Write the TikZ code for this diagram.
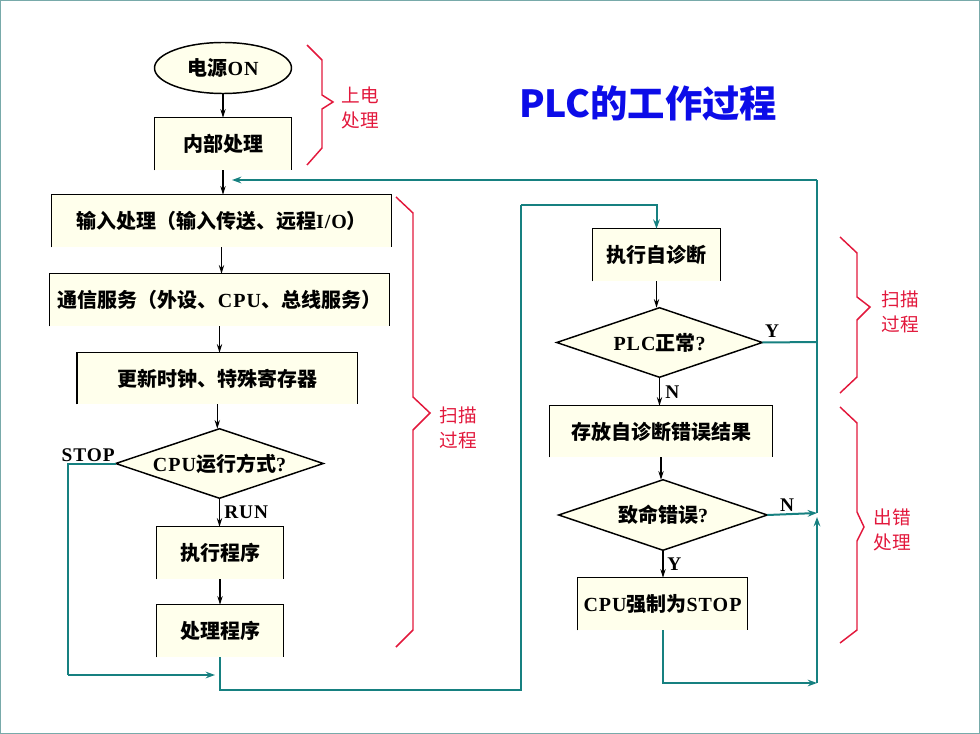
\documentclass[tikz,border=0pt]{standalone}
\usepackage{fontspec}
\newfontfamily\cjk{Noto Sans CJK SC}
\newfontfamily\lat{Liberation Serif}[LetterSpace=5]
\usetikzlibrary{arrows.meta,shapes.geometric,backgrounds}
\definecolor{cream}{RGB}{255,255,236}
\definecolor{tealc}{RGB}{22,128,128}
\definecolor{redc}{RGB}{226,24,60}
\definecolor{titleblue}{RGB}{12,12,232}
\definecolor{framec}{RGB}{120,170,170}
\newcommand\obox[1]{\draw[boxline] (#1.south west) -- (#1.north west) -- (#1.north east) -- (#1.south east);}
\newcommand\dshape[1]{\begin{scope}[on background layer]\draw[boxline,fill=cream] (#1.west) -- (#1.north) -- (#1.east) -- (#1.south) -- cycle;\end{scope}}
\begin{document}
\begin{tikzpicture}[x=0.75pt,y=-0.75pt,
  blk/.style 2 args={minimum width=#1*0.75pt, minimum height=#2*0.75pt, inner sep=0pt, font=\cjk\bfseries\fontsize{15}{17}\selectfont},
  boxfill/.style={fill=cream},
  boxline/.style={draw=black, line width=1.1pt},
  arr/.style={-{Stealth[length=6.5pt,width=4pt]}, line width=0.9pt, black},
  tl/.style={line width=1.5pt, tealc},
  tarr/.style={tl, -{Stealth[length=7pt,width=5pt]}},
  brace/.style={line width=1.1pt, redc, line join=miter},
  rlab/.style={font=\cjk\fontsize{14}{17}\selectfont, text=redc, align=center, inner sep=0pt},
  ylab/.style={font=\lat\bfseries\fontsize{14.5}{17}\selectfont, inner sep=0pt}
]
\useasboundingbox (0,0) rectangle (980,734);
\draw[framec, line width=0.8pt] (0.6,0.6) rectangle (979.4,733.4);

% title
\node[font=\cjk\bfseries\fontsize{28}{32}\selectfont, text=titleblue] (title) at (648,103) {PLC的工作过程};

% left column
\node[ellipse, draw=black, line width=1.1pt, fill=cream, minimum width=137*0.75pt, minimum height=51*0.75pt, inner sep=0pt,
  font=\cjk\bfseries\fontsize{15}{17}\selectfont] (on) at (223,68) {电源{\lat\bfseries ON}};
\node[blk={136}{52}, boxfill] (int) at (223,144) {内部处理};
\obox{int}
\node[blk={339}{52}, boxfill] (inp) at (221.5,221) {输入处理（输入传送、远程{\lat\bfseries I/O}）};
\obox{inp}
\node[blk={339}{52}, boxfill] (com) at (219.5,300) {通信服务（外设、{\lat\bfseries CPU}、总线服务）};
\obox{com}
\node[blk={280}{51}, boxfill] (upd) at (217.3,378.5) {更新时钟、特殊寄存器};
\obox{upd}
\node[blk={207}{69}] (cpu) at (219.5,463.5) {{\lat\bfseries CPU}运行方式{\lat\bfseries ?}};
\dshape{cpu}
\node[blk={126}{52}, boxfill] (exe) at (220,553) {执行程序};
\obox{exe}
\node[blk={126}{52}, boxfill] (prc) at (220,631) {处理程序};
\obox{prc}

% right column
\node[blk={127}{52}, boxfill] (diag) at (656.5,255) {执行自诊断};
\obox{diag}
\node[blk={205}{69}] (plc) at (659.5,342.5) {{\lat\bfseries PLC}正常{\lat\bfseries ?}};
\dshape{plc}
\node[blk={222}{51}, boxfill] (sto) at (661,431.5) {存放自诊断错误结果};
\obox{sto}
\node[blk={208}{70}] (fat) at (663,515) {致命错误{\lat\bfseries ?}};
\dshape{fat}
\node[blk={169}{52}, boxfill] (stp) at (662.5,604) {{\lat\bfseries CPU}强制为{\lat\bfseries STOP}};
\obox{stp}

% black arrows
\draw[arr] (on.south) -- (on.south |- int.north);
\draw[arr] (int.south) -- (int.south |- inp.north);
\draw[arr] (inp.south) -- (inp.south |- com.north);
\draw[arr] (com.south) -- (com.south |- upd.north);
\draw[arr] (upd.south) -- (upd.south |- cpu.north);
\draw[arr] (cpu.south) -- (cpu.south |- exe.north);
\draw[arr] (exe.south) -- (exe.south |- prc.north);
\draw[arr] (diag.south) -- (diag.south |- plc.north);
\draw[arr] (plc.south) -- (plc.south |- sto.north);
\draw[arr] (sto.south) -- (sto.south |- fat.north);
\draw[arr] (fat.south) -- (fat.south |- stp.north);

% labels
\node[ylab, anchor=east] (lstop) at (115,455) {STOP};
\node[ylab, anchor=west] (lrun) at (224,512) {RUN};
\node[ylab] (ly1) at (772,331) {Y};
\node[ylab, anchor=west] (ln1) at (665,392) {N};
\node[ylab] (ln2) at (787,505) {N};
\node[ylab, anchor=west] (ly2) at (667,564) {Y};

% teal connectors
\coordinate (sl) at (68,675);
\coordinate (se) at (215,675);
\draw[tl] (cpu.west) -| (sl);
\draw[tarr] (sl) -- (se);

\coordinate (lb) at (521,690);
\coordinate (lt) at (521,205);
\draw[tl] (prc.south) |- (lb) -- (lt);
\draw[tarr] (lt) -| (diag.north);

\coordinate (rb) at (817,683);
\coordinate (rm) at (817,513);
\coordinate (rmu) at (817,517);
\coordinate (ry) at (817,342);
\coordinate (rt) at (817,180);
\coordinate (entry) at (232,180);
\draw[tl] (plc.east) -- (ry);
\draw[tarr] (fat.east) -- (rm);
\draw[tarr] (stp.south) |- (rb);
\draw[tarr] (rb) -- (rmu);
\draw[tl] (rm) -- (rt);
\draw[tarr] (rt) -- (entry);

% red braces
\draw[brace] (307,45) -- (322,60) -- (322,95) -- (333,102) -- (322,109) -- (322,148) -- (307,165);
\node[rlab] (t1) at (360,108) {上电\\[2pt]处理};
\draw[brace] (396,197) -- (413,213) -- (413,397) -- (430,413) -- (413,430) -- (413,630) -- (396,647);
\node[rlab] (t2) at (458,428) {扫描\\[2pt]过程};
\draw[brace] (840,237) -- (857,253) -- (857,297) -- (870,307) -- (857,320) -- (857,377) -- (840,393);
\node[rlab] (t3) at (900,312) {扫描\\[2pt]过程};
\draw[brace] (840,407) -- (857,423) -- (857,512) -- (864,527) -- (857,541) -- (857,630) -- (840,643);
\node[rlab] (t4) at (892,530) {出错\\[2pt]处理};
\end{tikzpicture}
\end{document}
